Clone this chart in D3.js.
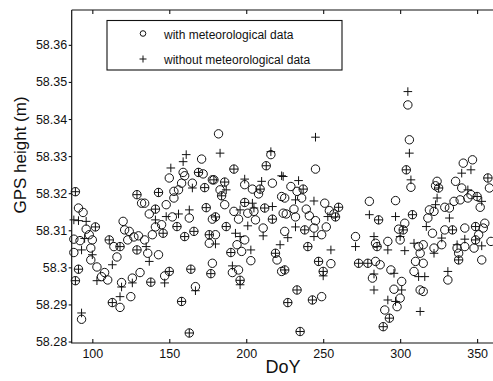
<!DOCTYPE html>
<html><head><meta charset="utf-8">
<script src="https://cdn.jsdelivr.net/npm/d3@7/dist/d3.min.js"></script>
<style>
body{margin:0;background:#fff}
svg{display:block}
text{font-family:"Liberation Sans",Arial,Helvetica,sans-serif;fill:#111}
</style>
</head><body>
<svg id="c" width="493" height="381"></svg>
<script>
const xTicks=[100,150,200,250,300,350];
const yTicks=[58.28,58.29,58.30,58.31,58.32,58.33,58.34,58.35,58.36];
const yTickLabels=["58.28","58.29","58.3","58.31","58.32","58.33","58.34","58.35","58.36"];
const seriesNames=["with meteorological data","without meteorological data"];
const xTitle="DoY", yTitle="GPS height (m)";

const withDoy=[89,91,94,96,102,98,88,92,100,88,99,99,91,103,108,106,110,89,93,111,114,118,116,120,121,124,127,130,123,129,129,132,119,126,131,113,118,125,
171,159,160,150,169,172,165,158,156,153,153,148,173,178,143,134,141,137,152,163,174,178,145,141,146,139,134,155,160,166,176,176,136,143,150,147,138,164,177,167,158,163,
182,216,213,192,179,186,199,204,209,217,208,183,184,223,186,192,195,199,201,206,205,212,217,224,180,180,178,187,211,199,194,197,190,203,191,195,196,219,220,223,
245,229,237,233,236,225,251,260,254,257,258,239,231,226,232,241,245,238,244,249,252,225,240,247,255,250,225,233,227,243,249,235,
305,306,304,307,280,297,286,308,271,303,299,302,284,285,292,300,312,313,273,279,284,287,282,294,301,296,300,298,290,293,289,313,310,309,
341,347,336,357,358,324,323,325,340,346,350,344,339,335,319,322,329,332,352,318,321,329,334,342,349,355,354,351,327,322,315,342,349,348,337,338,338,353,359,315,315,331];
const withVal=[58.3204,58.3160,58.3148,58.3103,58.3109,58.3088,58.3076,58.3072,58.3074,58.3040,58.3052,58.3020,58.2995,58.3001,58.2986,58.2975,58.2966,58.2964,58.2860,58.3074,58.3056,58.3056,58.3028,58.3124,58.3101,58.3097,58.3082,58.3085,58.3074,58.3047,58.3196,58.3173,58.2959,58.2971,58.2986,58.2905,58.2892,58.2921,
58.3292,58.3256,58.3247,58.3241,58.3256,58.3252,58.3227,58.3227,58.3209,58.3205,58.3187,58.3169,58.3215,58.3236,58.3202,58.3173,58.3157,58.3144,58.3136,58.3133,58.3161,58.3130,58.3115,58.3109,58.3092,58.3088,58.3074,58.3110,58.3083,58.3097,58.3088,58.3065,58.3038,58.3034,58.2989,58.2977,58.2960,58.2995,58.2983,58.2948,58.2908,58.2823,
58.3360,58.3304,58.3274,58.3265,58.3236,58.3230,58.3223,58.3211,58.3211,58.3227,58.3198,58.3209,58.3193,58.3191,58.3169,58.3151,58.3130,58.3175,58.3146,58.3128,58.3151,58.3160,58.3130,58.3146,58.3136,58.3088,58.3011,58.3110,58.3106,58.3074,58.3061,58.3043,58.3040,58.3018,58.2986,58.2993,58.2965,58.3038,58.3020,58.2989,
58.3265,58.3218,58.3211,58.3205,58.3187,58.3187,58.3173,58.3162,58.3153,58.3144,58.3136,58.3157,58.3157,58.3144,58.3136,58.3139,58.3126,58.3101,58.3106,58.3088,58.3109,58.3097,58.3056,58.3016,58.3010,58.2989,58.2993,58.2939,58.2905,58.2912,58.2921,58.2827,
58.3438,58.3344,58.3263,58.3216,58.3178,58.3180,58.3128,58.3142,58.3083,58.3119,58.3103,58.3101,58.3065,58.3056,58.3070,58.3074,58.3056,58.3038,58.3011,58.3011,58.3016,58.3007,58.2971,58.2993,58.2962,58.2941,58.2917,58.2894,58.2885,58.2863,58.2840,58.2939,58.3016,58.2989,
58.3281,58.3290,58.3232,58.3241,58.3214,58.3232,58.3220,58.3214,58.3214,58.3196,58.3191,58.3187,58.3182,58.3178,58.3155,58.3151,58.3162,58.3160,58.3162,58.3133,58.3092,58.3101,58.3101,58.3106,58.3110,58.3119,58.3106,58.3088,58.3061,58.3052,58.3061,58.3056,58.3074,58.3052,58.3052,58.3038,58.3020,58.3020,58.3070,58.3011,58.2935,58.2966];

const withoutDoy=[89,102,91,89,111,118,129,129,113,169,173,143,141,174,146,155,160,166,176,150,138,164,177,158,163,216,213,192,179,186,209,184,199,212,217,180,187,190,196,219,237,260,258,238,240,247,250,225,233,227,243,235,304,286,308,302,285,273,279,293,289,357,325,350,334,349,349,338,
88,91,96,93,100,103,93,113,119,126,118,95,
161,159,151,165,141,148,156,163,135,137,147,167,
183,223,199,210,187,196,204,205,217,180,201,211,193,196,203,191,222,196,
245,224,234,232,244,253,232,244,227,255,250,
305,306,307,280,297,271,283,292,300,303,309,283,296,283,301,292,297,313,312,
346,340,344,353,324,323,317,332,327,322,342,353,316,331,337];
const withoutVal=[58.3204,58.3109,58.2995,58.2964,58.3074,58.3056,58.3047,58.3196,58.2905,58.3256,58.3215,58.3202,58.3157,58.3161,58.3092,58.3110,58.3083,58.3097,58.3088,58.2989,58.2960,58.2995,58.2983,58.2908,58.2823,58.3312,58.3274,58.3265,58.3236,58.3230,58.3211,58.3193,58.3175,58.3160,58.3130,58.3136,58.3110,58.3040,58.2965,58.3038,58.3211,58.3162,58.3136,58.3101,58.3056,58.3016,58.2989,58.2993,58.2939,58.2905,58.2912,58.2827,58.3263,58.3128,58.3142,58.3101,58.3056,58.3011,58.3011,58.2863,58.2840,58.3241,58.3214,58.3191,58.3101,58.3110,58.3074,58.3020,
58.3128,58.3126,58.3124,58.3047,58.3034,58.2964,58.2877,58.3007,58.2947,58.2958,58.2921,58.3078,
58.3304,58.3285,58.3268,58.3214,58.3128,58.3137,58.3144,58.3155,58.3056,58.3016,58.2958,58.2937,
58.3308,58.3247,58.3238,58.3232,58.3209,58.3155,58.3173,58.3160,58.3164,58.3063,58.3112,58.3085,58.3092,58.3083,58.3047,58.3004,58.3061,58.2953,
58.3351,58.3245,58.3234,58.3182,58.3179,58.3137,58.3109,58.3083,58.3080,58.3047,58.2977,
58.3474,58.3308,58.3236,58.3142,58.3137,58.3056,58.3083,58.3047,58.3083,58.3045,58.3065,58.2982,58.2984,58.2939,58.2939,58.2912,58.2908,58.2881,58.2975,
58.3263,58.3254,58.3209,58.3178,58.3187,58.3169,58.3110,58.3133,58.3079,58.3038,58.3076,58.3058,58.2975,58.2989,58.3061];

const W=493,H=381;
const L=71.7,R=492.5,T=10,B=343;
const svg=d3.select("#c");
const x=d3.scaleLinear().domain([86.6,360]).range([L,R]);
const y=d3.scaleLinear().domain([58.2796,58.3694]).range([B,T]);

const ink="#111";
// frame
svg.append("path").attr("d",`M${L},${T}H${W+5}M${L},${T}V${B}H${W+5}`)
  .attr("fill","none").attr("stroke",ink).attr("stroke-width",1.2);

// axes
const gL=svg.append("g").attr("transform",`translate(${L},0)`)
  .call(d3.axisLeft(y).tickValues(yTicks).tickFormat((d,i)=>yTickLabels[i]).tickSize(3).tickSizeOuter(0).tickPadding(1.5));
const gB=svg.append("g").attr("transform",`translate(0,${B})`)
  .call(d3.axisBottom(x).tickValues(xTicks).tickSize(-4).tickSizeOuter(0).tickPadding(6));
const gT=svg.append("g").attr("transform",`translate(0,${T})`)
  .call(d3.axisTop(x).tickValues(xTicks).tickSize(-4).tickSizeOuter(0).tickFormat(""));
[gL,gB,gT].forEach(g=>{
  g.select(".domain").remove();
  g.selectAll("line").attr("stroke",ink).attr("stroke-width",1.1);
  g.selectAll("text").attr("font-size",12.5).attr("fill",ink)
   .attr("font-family",'"Liberation Sans",Arial,sans-serif');
});

// titles
svg.append("text").attr("x",283).attr("y",373).attr("text-anchor","middle")
  .attr("font-size",18).text(xTitle);
svg.append("text").attr("transform","translate(26,155) rotate(-90)")
  .attr("text-anchor","middle").attr("font-size",17).text(yTitle);

// data
const plusPath=s=>`M${-s},0H${s}M0,${-s}V${s}`;
const withoutData=withoutDoy.map((d,i)=>({doy:d,v:withoutVal[i]}));
const withData=withDoy.map((d,i)=>({doy:d,v:withVal[i]}));

svg.append("g").selectAll("path").data(withoutData).join("path")
  .attr("transform",d=>`translate(${x(d.doy)},${y(d.v)})`)
  .attr("d",plusPath(4.3)).attr("fill","none").attr("stroke",ink).attr("stroke-width",1);
svg.append("g").selectAll("circle").data(withData).join("circle")
  .attr("cx",d=>x(d.doy)).attr("cy",d=>y(d.v)).attr("r",4.2)
  .attr("fill","none").attr("stroke",ink).attr("stroke-width",1);

// legend
const lg=svg.append("g");
lg.append("rect").attr("x",107).attr("y",20.5).attr("width",235).attr("height",49.5)
  .attr("fill","#fff").attr("stroke",ink).attr("stroke-width",1.1);
lg.append("circle").attr("cx",143).attr("cy",33.5).attr("r",2.8)
  .attr("fill","none").attr("stroke",ink).attr("stroke-width",1);
lg.append("path").attr("transform","translate(143,59)").attr("d",plusPath(3.5))
  .attr("fill","none").attr("stroke",ink).attr("stroke-width",1);
lg.append("text").attr("x",164).attr("y",39).attr("font-size",12).text(seriesNames[0]);
lg.append("text").attr("x",164).attr("y",64).attr("font-size",12).text(seriesNames[1]);
</script>
</body></html>
